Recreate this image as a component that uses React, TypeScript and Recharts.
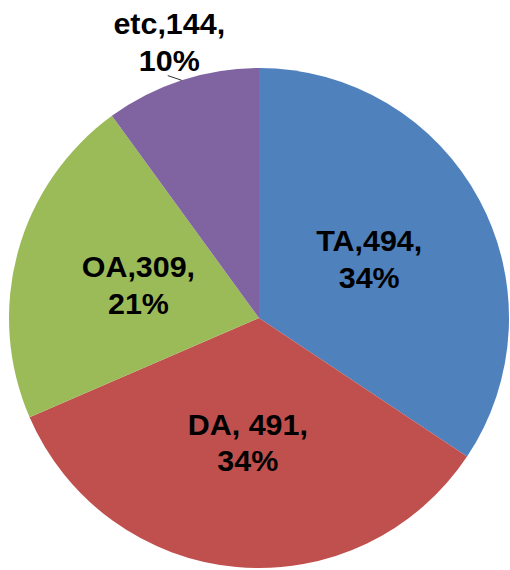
import { PieChart, Pie, Cell } from "recharts";

const categories = ["TA", "DA", "OA", "etc"];
const values = [494, 491, 309, 144];
const separators = [",", ", ", ",", ","];
const colors = ["#4F81BD", "#C0504D", "#9BBB59", "#8064A2"];

const data = categories.map((name, i) => ({ name, value: values[i] }));

const RAD = Math.PI / 180;

const renderLabel = (props: any) => {
  const { cx, cy, midAngle, outerRadius, percent, index, name, value } = props;
  const outside = index === 3;
  const r = outside ? outerRadius * 1.16 : outerRadius * 0.5;
  const x = cx + r * Math.cos(-midAngle * RAD);
  const y = cy + r * Math.sin(-midAngle * RAD);
  const line1 = `${name}${separators[index]}${value},`;
  const line2 = `${Math.round(percent * 100)}%`;
  const textStyle = {
    fontFamily: "'Liberation Sans', Arial, sans-serif",
    fontWeight: 700,
    fontSize: 29,
    fill: "#000",
  };
  let leader = null;
  if (outside) {
    const sx = cx + outerRadius * Math.cos(-midAngle * RAD);
    const sy = cy + outerRadius * Math.sin(-midAngle * RAD);
    const a2 = (midAngle + 2.6) * RAD;
    const ex = cx + (outerRadius + 9) * Math.cos(-a2);
    const ey = cy + (outerRadius + 9) * Math.sin(-a2);
    leader = <line x1={sx} y1={sy} x2={ex} y2={ey} stroke="#333" strokeWidth={1} />;
  }
  return (
    <g>
      {leader}
      <g transform={`translate(${x},${y}) scale(1.05,1)`}>
        <text x={0} y={-8} textAnchor="middle" style={textStyle}>
          {line1}
        </text>
        <text x={0} y={29} textAnchor="middle" style={textStyle}>
          {line2}
        </text>
      </g>
    </g>
  );
};

const App = () => {
  return (
    <div style={{ position: "absolute", left: 0, top: 0, background: "#fff" }}>
      <PieChart width={510} height={570} margin={{ top: 0, right: 0, bottom: 0, left: 0 }}>
        <Pie
          data={data}
          dataKey="value"
          nameKey="name"
          cx={259}
          cy={318}
          outerRadius={250}
          startAngle={90}
          endAngle={-270}
          stroke="none"
          label={renderLabel}
          labelLine={false}
          isAnimationActive={false}
        >
          {data.map((d, i) => (
            <Cell key={d.name} fill={colors[i]} />
          ))}
        </Pie>
      </PieChart>
    </div>
  );
};

export default App;
